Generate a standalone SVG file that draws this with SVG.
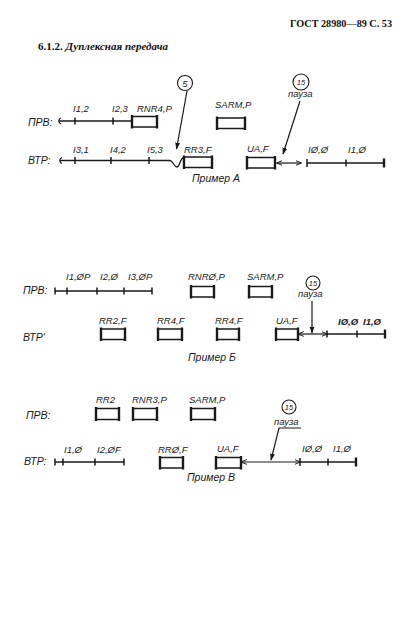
<svg xmlns="http://www.w3.org/2000/svg" width="419" height="639" viewBox="0 0 419 639">
<style>
.t{font-family:"Liberation Sans",Arial,sans-serif;font-style:italic;font-size:9.5px;fill:#1a1a1a}
.b{font-weight:bold}
.lab{font-family:"Liberation Sans",Arial,sans-serif;font-style:italic;font-size:10.5px;fill:#1a1a1a}
.hd{font-family:"Liberation Serif","Times New Roman",serif;font-weight:bold;font-size:11px;fill:#111}
.ln{stroke:#1a1a1a;stroke-width:1.3;fill:none}
.tk{stroke:#1a1a1a;stroke-width:1.5;fill:none}
.fh{stroke:#1a1a1a;stroke-width:1.7;fill:none}
.fv{stroke:#1a1a1a;stroke-width:2.4;fill:none}
.ar{stroke:#1a1a1a;stroke-width:1.2;fill:none}
.cc{stroke:#1a1a1a;stroke-width:1.1;fill:none}
.cn{font-family:"Liberation Sans",Arial,sans-serif;font-style:italic;font-size:7.5px;fill:#1a1a1a}
</style>
<defs>
<marker id="ah" viewBox="0 0 10 10" refX="9" refY="5" markerWidth="7" markerHeight="7" markerUnits="userSpaceOnUse" orient="auto-start-reverse">
<path d="M0,1.5 L10,5 L0,8.5 Z" fill="#1a1a1a"/>
</marker>
<marker id="dh" viewBox="0 0 10 10" refX="9" refY="5" markerWidth="6" markerHeight="6" markerUnits="userSpaceOnUse" orient="auto-start-reverse">
<path d="M0,1 L10,5 L0,9" fill="none" stroke="#1a1a1a" stroke-width="1.6"/>
</marker>
</defs>
<rect width="419" height="639" fill="#fff"/>

<g id="header">
<text class="hd" x="290" y="27" textLength="102" lengthAdjust="spacingAndGlyphs">ГОСТ 28980—89 С. 53</text>
<text class="hd" x="38" y="50" font-size="10">6.1.2. <tspan font-style="italic">Дуплексная передача</tspan></text>
</g>

<!-- ============ Example A ============ -->
<g id="a-prv-label"><text class="lab" x="28" y="125.5">ПРВ:</text></g>
<g id="a-prv-line">
<path class="ln" d="M59,121 H132"/>
<path class="ar" d="M61,118 C58,119 58,123 61,124"/>
<path class="tk" d="M75,117.5 V124.5 M113,117.5 V124.5"/>
<text class="t" x="73" y="112">I1,2</text>
<text class="t" x="112" y="112">I2,3</text>
</g>
<g id="a-rnr4p">
<text class="t" x="137" y="112">RNR4,P</text>
<path class="fh" d="M132,116.5 H157 M132,127 H157"/><path class="fv" d="M132,115 V128.5 M157,115 V128.5"/>
</g>
<g id="a-sarmp">
<text class="t" x="215" y="108">SARM,P</text>
<path class="fh" d="M217,118 H245 M217,128.5 H245"/><path class="fv" d="M217,116.5 V130 M245,116.5 V130"/>
</g>
<g id="a-vtr-label"><text class="lab" x="28" y="164">ВТР:</text></g>
<g id="a-vtr-line">
<path class="ln" d="M60,160.5 H170 C173,160.5 174,167 177,167 C180,167 180,157.5 184,157.5"/>
<path class="ar" d="M62,157.5 C59,158.5 59,162.5 62,163.5"/>
<path class="tk" d="M75,157 V164 M111,157 V164 M149,157 V164"/>
<text class="t" x="73" y="153">I3,1</text>
<text class="t" x="110" y="153">I4,2</text>
<text class="t" x="147" y="153">I5,3</text>
</g>
<g id="a-rr3f">
<text class="t" x="184" y="153">RR3,F</text>
<path class="fh" d="M184,157 H212 M184,167.5 H212"/><path class="fv" d="M184,155.5 V169 M212,155.5 V169"/>
</g>
<g id="a-uaf">
<text class="t" x="247" y="152">UA,F</text>
<path class="fh" d="M247,157.5 H275 M247,168 H275"/><path class="fv" d="M247,156 V169.5 M275,156 V169.5"/>
</g>
<g id="a-info">
<path class="ln" d="M307,163 H384"/>
<path class="tk" d="M307,159 V167 M346,159.5 V166.5"/>
<path class="fv" d="M384,158.5 V167.5"/>
<text class="t" x="308" y="153">IØ,Ø</text>
<text class="t" x="348" y="153">I1,Ø</text>
</g>
<g id="a-c5"><circle class="cc" cx="185" cy="83" r="7.5"/><text class="t" x="185" y="86.5" text-anchor="middle">5</text></g>
<g id="a-c15"><circle class="cc" cx="301" cy="82" r="8"/><text class="cn" x="301" y="84.8" text-anchor="middle">15</text>
<text class="t" x="288" y="97">пауза</text></g>
<g id="a-caption"><text class="lab" x="192" y="182">Пример А</text></g>

<!-- ============ Example Б ============ -->
<g id="b-prv-label"><text class="lab" x="23" y="294">ПРВ:</text></g>
<g id="b-prv-line">
<path class="ln" d="M55,291 H152"/>
<path class="tk" d="M55,287.5 V294.5 M67,287.5 V294.5 M97,287.5 V294.5 M124,287.5 V294.5 M152,287.5 V294.5"/>
<text class="t" x="66" y="280">I1,ØP</text>
<text class="t" x="100" y="280">I2,Ø</text>
<text class="t" x="128" y="280">I3,ØP</text>
</g>
<g id="b-rnr0p">
<text class="t" x="188" y="280">RNRØ,P</text>
<path class="fh" d="M191,286.5 H214 M191,297 H214"/><path class="fv" d="M191,285 V298.5 M214,285 V298.5"/>
</g>
<g id="b-sarmp">
<text class="t" x="247" y="280">SARM,P</text>
<path class="fh" d="M249,286.5 H272 M249,297 H272"/><path class="fv" d="M249,285 V298.5 M272,285 V298.5"/>
</g>
<g id="b-vtr-label"><text class="lab" x="23" y="341">ВТР'</text></g>
<g id="b-rr2f">
<text class="t" x="99" y="324">RR2,F</text>
<path class="fh" d="M101,329 H125 M101,339.5 H125"/><path class="fv" d="M101,327.5 V341 M125,327.5 V341"/>
</g>
<g id="b-rr4f-1">
<text class="t" x="157" y="324">RR4,F</text>
<path class="fh" d="M158,329 H182 M158,339.5 H182"/><path class="fv" d="M158,327.5 V341 M182,327.5 V341"/>
</g>
<g id="b-rr4f-2">
<text class="t" x="215" y="324">RR4,F</text>
<path class="fh" d="M217,329 H239 M217,339.5 H239"/><path class="fv" d="M217,327.5 V341 M239,327.5 V341"/>
</g>
<g id="b-uaf">
<text class="t" x="276" y="324">UA,F</text>
<path class="fh" d="M276,329 H298 M276,339.5 H298"/><path class="fv" d="M276,327.5 V341 M298,327.5 V341"/>
</g>
<g id="b-info">
<path class="ln" d="M327,334 H385"/>
<path class="tk" d="M327,330.5 V337.5 M357,330.5 V337.5"/>
<path class="fv" d="M385,329.5 V338.5"/>
<text class="t b" x="338" y="325">IØ,Ø</text>
<text class="t b" x="363" y="325">I1,Ø</text>
</g>
<g id="b-c15"><circle class="cc" cx="313" cy="283" r="7"/><text class="cn" x="313" y="285.8" text-anchor="middle">15</text>
<text class="t" x="298" y="297">пауза</text></g>
<g id="b-caption"><text class="lab" x="188" y="361">Пример Б</text></g>

<!-- ============ Example В ============ -->
<g id="c-prv-label"><text class="lab" x="26" y="419">ПРВ:</text></g>
<g id="c-rr2">
<text class="t" x="96" y="403">RR2</text>
<path class="fh" d="M96,408.5 H119 M96,419.5 H119"/><path class="fv" d="M96,407 V421 M119,407 V421"/>
</g>
<g id="c-rnr3p">
<text class="t" x="132" y="403">RNR3,P</text>
<path class="fh" d="M133,408.5 H157 M133,419.5 H157"/><path class="fv" d="M133,407 V421 M157,407 V421"/>
</g>
<g id="c-sarmp">
<text class="t" x="189" y="403">SARM,P</text>
<path class="fh" d="M191,408.5 H215 M191,419.5 H215"/><path class="fv" d="M191,407 V421 M215,407 V421"/>
</g>
<g id="c-vtr-label"><text class="lab" x="24" y="465">ВТР:</text></g>
<g id="c-vtr-line">
<path class="ln" d="M55,462 H124"/>
<path class="tk" d="M55,458.5 V465.5 M63,458.5 V465.5 M95,458.5 V465.5 M124,458.5 V465.5"/>
<text class="t" x="64" y="453">I1,Ø</text>
<text class="t" x="97" y="453">I2,ØF</text>
</g>
<g id="c-rr0f">
<text class="t" x="158" y="453">RRØ,F</text>
<path class="fh" d="M160,457.5 H183 M160,468 H183"/><path class="fv" d="M160,456 V469.5 M183,456 V469.5"/>
</g>
<g id="c-uaf">
<text class="t" x="217" y="452">UA,F</text>
<path class="fh" d="M216,457.5 H241 M216,468 H241"/><path class="fv" d="M216,456 V469.5 M241,456 V469.5"/>
</g>
<g id="c-info">
<path class="ln" d="M300,462 H356"/>
<path class="tk" d="M300,458 V466 M328,458.5 V465.5"/>
<path class="fv" d="M356,457.5 V466.5"/>
<text class="t" x="302" y="452">IØ,Ø</text>
<text class="t" x="333" y="452">I1,Ø</text>
</g>
<g id="c-c15"><circle class="cc" cx="289" cy="407" r="7"/><text class="cn" x="289" y="409.8" text-anchor="middle">15</text>
<text class="t" x="274" y="425">пауза</text></g>
<g id="c-caption"><text class="lab" x="187" y="481">Пример В</text></g>

<!-- ============ connectors ============ -->
<g id="connectors">
<path class="ar" d="M187,91 L176.5,149" marker-end="url(#ah)"/>
<path class="ar" d="M300,101 L283,154" marker-end="url(#ah)"/>
<path class="ar" d="M277,163 H301" marker-start="url(#dh)" marker-end="url(#dh)"/>
<path class="ar" d="M312,301 V333" marker-end="url(#ah)"/>
<path class="ar" d="M298.5,334 H327" marker-start="url(#dh)" marker-end="url(#dh)"/>
<path class="ar" d="M301,428 H279 L271,460" marker-end="url(#ah)"/>
<path class="ar" d="M241.5,462 H300" marker-start="url(#dh)" marker-end="url(#dh)"/>
</g>
</svg>
